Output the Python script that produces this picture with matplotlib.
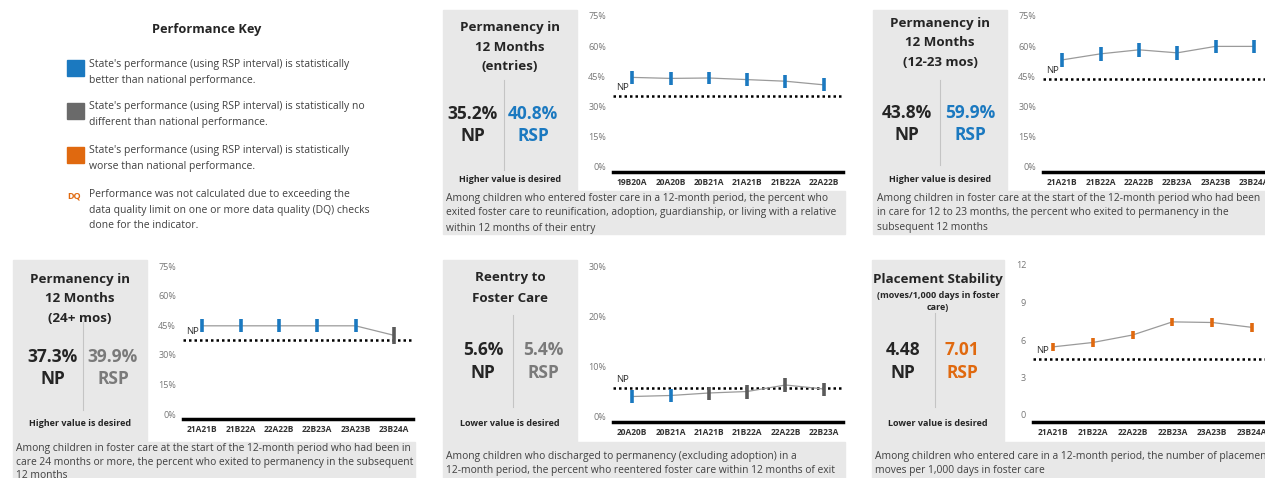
import matplotlib
matplotlib.use("Agg")
import matplotlib.pyplot as plt
from matplotlib.patches import Rectangle

plt.rcParams['font.family'] = ['Open Sans', 'DejaVu Sans']

# ---- data ----
p1_cats = ['19B20A', '20A20B', '20B21A', '21A21B', '21B22A', '22A22B']
p1_vals = [44.5, 44.0, 44.2, 43.4, 42.6, 40.8]
p1_lo = [41.3, 40.8, 41.0, 40.2, 39.4, 37.6]
p1_hi = [47.7, 47.2, 47.4, 46.6, 45.8, 44.0]
p1_cols = ['blue'] * 6
p1_np = 35.2

p2_cats = ['21A21B', '21B22A', '22A22B', '22B23A', '23A23B', '23B24A']
p2_vals = [53.2, 56.2, 58.2, 56.7, 59.9, 59.9]
p2_lo = [49.8, 52.8, 54.8, 53.3, 56.5, 56.5]
p2_hi = [56.6, 59.6, 61.6, 60.1, 63.3, 63.3]
p2_cols = ['blue'] * 6
p2_np = 43.8

p3_cats = ['21A21B', '21B22A', '22A22B', '22B23A', '23A23B', '23B24A']
p3_vals = [44.7, 44.7, 44.7, 44.7, 44.7, 39.9]
p3_lo = [41.4, 41.4, 41.4, 41.4, 41.4, 35.3]
p3_hi = [48.0, 48.0, 48.0, 48.0, 48.0, 44.2]
p3_cols = ['blue'] * 5 + ['gray']
p3_np = 37.3

p4_cats = ['20A20B', '20B21A', '21A21B', '21B22A', '22A22B', '22B23A']
p4_vals = [3.9, 4.1, 4.6, 4.9, 6.2, 5.4]
p4_lo = [2.6, 2.8, 3.3, 3.5, 4.8, 4.1]
p4_hi = [5.2, 5.4, 5.9, 6.3, 7.6, 6.7]
p4_cols = ['blue', 'blue', 'gray', 'gray', 'gray', 'gray']
p4_np = 5.6

p5_cats = ['21A21B', '21B22A', '22A22B', '22B23A', '23A23B', '23B24A']
p5_vals = [5.45, 5.8, 6.4, 7.45, 7.4, 7.01]
p5_lo = [5.1, 5.45, 6.05, 7.1, 7.05, 6.66]
p5_hi = [5.8, 6.15, 6.75, 7.8, 7.75, 7.36]
p5_cols = ['orange'] * 6
p5_np = 4.48

COLORS = {'blue': '#1b79c0', 'gray': '#5a5a5a', 'orange': '#e0690f'}
BOX = '#e8e8e8'
DARK = '#252525'
TEXT = '#404040'

W, H = 1265, 478
fig = plt.figure(figsize=(W / 100, H / 100), dpi=100)


def fx(x):
    return x / W


def fy(y):
    return 1 - y / H


def box(x0, y0, x1, y1, color=BOX):
    fig.add_artist(Rectangle((fx(x0), fy(y1)), (x1 - x0) / W, (y1 - y0) / H,
                             transform=fig.transFigure, color=color, zorder=0))


def txt(x, y, s, **kw):
    kw.setdefault('va', 'center')
    fig.text(fx(x), fy(y), s, **kw)


def vline(x, y0, y1, color='#c4c4c4'):
    fig.add_artist(plt.Line2D([fx(x), fx(x)], [fy(y0), fy(y1)],
                              transform=fig.transFigure, color=color, lw=0.8))


def chart(left, right, top, bottom, ylo, yhi, ticks, tick_fmt,
          cats, vals, lo, hi, cols, np_val):
    ax = fig.add_axes([fx(left), fy(bottom), (right - left) / W, (bottom - top) / H])
    x = list(range(len(cats)))
    ax.plot(x, vals, color='#9a9a9a', lw=0.9, zorder=2)
    for i in x:
        ax.vlines(i, lo[i], hi[i], color=COLORS[cols[i]], lw=2.6, zorder=3)
    ax.axhline(np_val, color='black', lw=1.8, ls=(0, (1, 1.2)), zorder=1)
    ax.annotate('NP', (-0.5, np_val), xytext=(2, 3), textcoords='offset points',
                fontsize=6.8, color='#333333', va='bottom', ha='left')
    ax.set_xlim(-0.5, len(cats) - 0.5)
    ax.set_ylim(ylo, yhi)
    ax.set_yticks(ticks)
    ax.set_yticklabels([tick_fmt.format(t) for t in ticks], fontsize=6.5, color='#777777')
    ax.set_xticks(x)
    ax.set_xticklabels(cats, fontsize=6, fontweight='bold', color='#333333')
    ax.tick_params(length=0, axis='both')
    ax.tick_params(axis='y', pad=5)
    ax.tick_params(axis='x', pad=4)
    for s in ['top', 'right', 'left']:
        ax.spines[s].set_visible(False)
    ax.spines['bottom'].set_linewidth(2.5)
    ax.spines['bottom'].set_color('black')
    ax.patch.set_alpha(0)
    return ax


def summary(x0, x1, y0, y1, title_lines, title_ys, np_txt, rsp_txt, rsp_col,
            np_x, rsp_x, num_y, lab_y, sep_x, sep_y0, sep_y1, desired, des_y):
    box(x0, y0, x1, y1)
    cx = (x0 + x1) / 2
    for line, yy in zip(title_lines, title_ys):
        fs = 9.6
        if isinstance(line, tuple):
            line, fs = line
        txt(cx, yy, line, ha='center', fontsize=fs, fontweight='bold', color=DARK)
    txt(np_x, num_y, np_txt, ha='center', fontsize=12.5, fontweight='bold', color=DARK)
    txt(np_x, lab_y, 'NP', ha='center', fontsize=12.5, fontweight='bold', color=DARK)
    txt(rsp_x, num_y, rsp_txt, ha='center', fontsize=12.5, fontweight='bold', color=rsp_col)
    txt(rsp_x, lab_y, 'RSP', ha='center', fontsize=12.5, fontweight='bold', color=rsp_col)
    vline(sep_x, sep_y0, sep_y1)
    txt(cx, des_y, desired, ha='center', fontsize=6.5, fontweight='bold', color=DARK)


def description(x0, x1, y0, y1, lines, tx, ys):
    box(x0, y0, x1, y1)
    for line, yy in zip(lines, ys):
        txt(tx, yy, line, ha='left', fontsize=7.4, color=TEXT)


# ---- performance key ----
txt(207, 29, 'Performance Key', ha='center', fontsize=9.2, fontweight='bold', color=DARK)
key_rows = [
    ('blue', ["State's performance (using RSP interval) is statistically",
              'better than national performance.'], 64),
    ('gray', ["State's performance (using RSP interval) is statistically no",
              'different than national performance.'], 107),
    ('orange', ["State's performance (using RSP interval) is statistically",
                'worse than national performance.'], 151),
]
for col, lines, yy in key_rows:
    box(67, yy - 4, 84, yy + 12, color='#6a6a6a' if col == 'gray' else COLORS[col])
    for k, line in enumerate(lines):
        txt(89, yy + k * 16, line, ha='left', fontsize=7.5, color=TEXT)
txt(67, 196, 'DQ', ha='left', fontsize=6.5, fontweight='bold', color=COLORS['orange'])
for k, line in enumerate(['Performance was not calculated due to exceeding the',
                          'data quality limit on one or more data quality (DQ) checks',
                          'done for the indicator.']):
    txt(89, 195 + k * 15, line, ha='left', fontsize=7.5, color=TEXT)

# ---- panel 1: permanency entries ----
summary(443, 577, 10, 191, ['Permanency in', '12 Months', '(entries)'], [28, 47, 66],
        '35.2%', '40.8%', COLORS['blue'], 473, 533, 114, 136, 504, 80, 170,
        'Higher value is desired', 180)
description(443, 845, 191, 234,
            ['Among children who entered foster care in a 12-month period, the percent who',
             'exited foster care to reunification, adoption, guardianship, or living with a relative',
             'within 12 months of their entry'], 446, [198, 213, 228])
chart(613, 843, 16, 172, -2.5, 75, [0, 15, 30, 45, 60, 75], '{}%',
      p1_cats, p1_vals, p1_lo, p1_hi, p1_cols, p1_np)

# ---- panel 2: permanency 12-23 mos ----
summary(873, 1007, 10, 191, ['Permanency in', '12 Months', '(12-23 mos)'], [24, 43, 62],
        '43.8%', '59.9%', COLORS['blue'], 907, 970, 113, 135, 940, 80, 165,
        'Higher value is desired', 180)
description(873, 1265, 191, 234,
            ['Among children in foster care at the start of the 12-month period who had been',
             'in care for 12 to 23 months, the percent who exited to permanency in the',
             'subsequent 12 months'], 877, [198, 213, 227])
chart(1043, 1273, 16, 172, -2.5, 75, [0, 15, 30, 45, 60, 75], '{}%',
      p2_cats, p2_vals, p2_lo, p2_hi, p2_cols, p2_np)

# ---- panel 3: permanency 24+ mos ----
summary(13, 147, 260, 442, ['Permanency in', '12 Months', '(24+ mos)'], [279, 299, 318],
        '37.3%', '39.9%', '#7a7a7a', 53, 113, 357, 379, 83, 322, 410,
        'Higher value is desired', 423)
description(13, 415, 442, 478,
            ['Among children in foster care at the start of the 12-month period who had been in',
             'care 24 months or more, the percent who exited to permanency in the subsequent',
             '12 months'], 16, [448, 462, 475])
chart(183, 413, 266, 419, -2.5, 75, [0, 15, 30, 45, 60, 75], '{}%',
      p3_cats, p3_vals, p3_lo, p3_hi, p3_cols, p3_np)

# ---- panel 4: reentry ----
summary(443, 577, 260, 442, ['Reentry to', 'Foster Care'], [278, 298],
        '5.6%', '5.4%', '#7a7a7a', 483, 543, 350, 373, 513, 315, 407,
        'Lower value is desired', 423)
description(443, 845, 442, 478,
            ['Among children who discharged to permanency (excluding adoption) in a',
             '12-month period, the percent who reentered foster care within 12 months of exit'],
            446, [456, 470])
chart(613, 843, 266, 422, -1.2, 30, [0, 10, 20, 30], '{}%',
      p4_cats, p4_vals, p4_lo, p4_hi, p4_cols, p4_np)

# ---- panel 5: placement stability ----
summary(872, 1004, 260, 442,
        [('Placement Stability', 9.6), ('(moves/1,000 days in foster', 6.5), ('care)', 6.5)],
        [279, 295, 307],
        '4.48', '7.01', COLORS['orange'], 903, 962, 350, 373, 935, 313, 407,
        'Lower value is desired', 423)
description(872, 1265, 442, 478,
            ['Among children who entered care in a 12-month period, the number of placement',
             'moves per 1,000 days in foster care'], 875, [457, 471])
chart(1033, 1272, 265, 422, -0.56, 12, [0, 3, 6, 9, 12], '{}',
      p5_cats, p5_vals, p5_lo, p5_hi, p5_cols, p5_np)

fig.savefig('out.png', dpi=100)
